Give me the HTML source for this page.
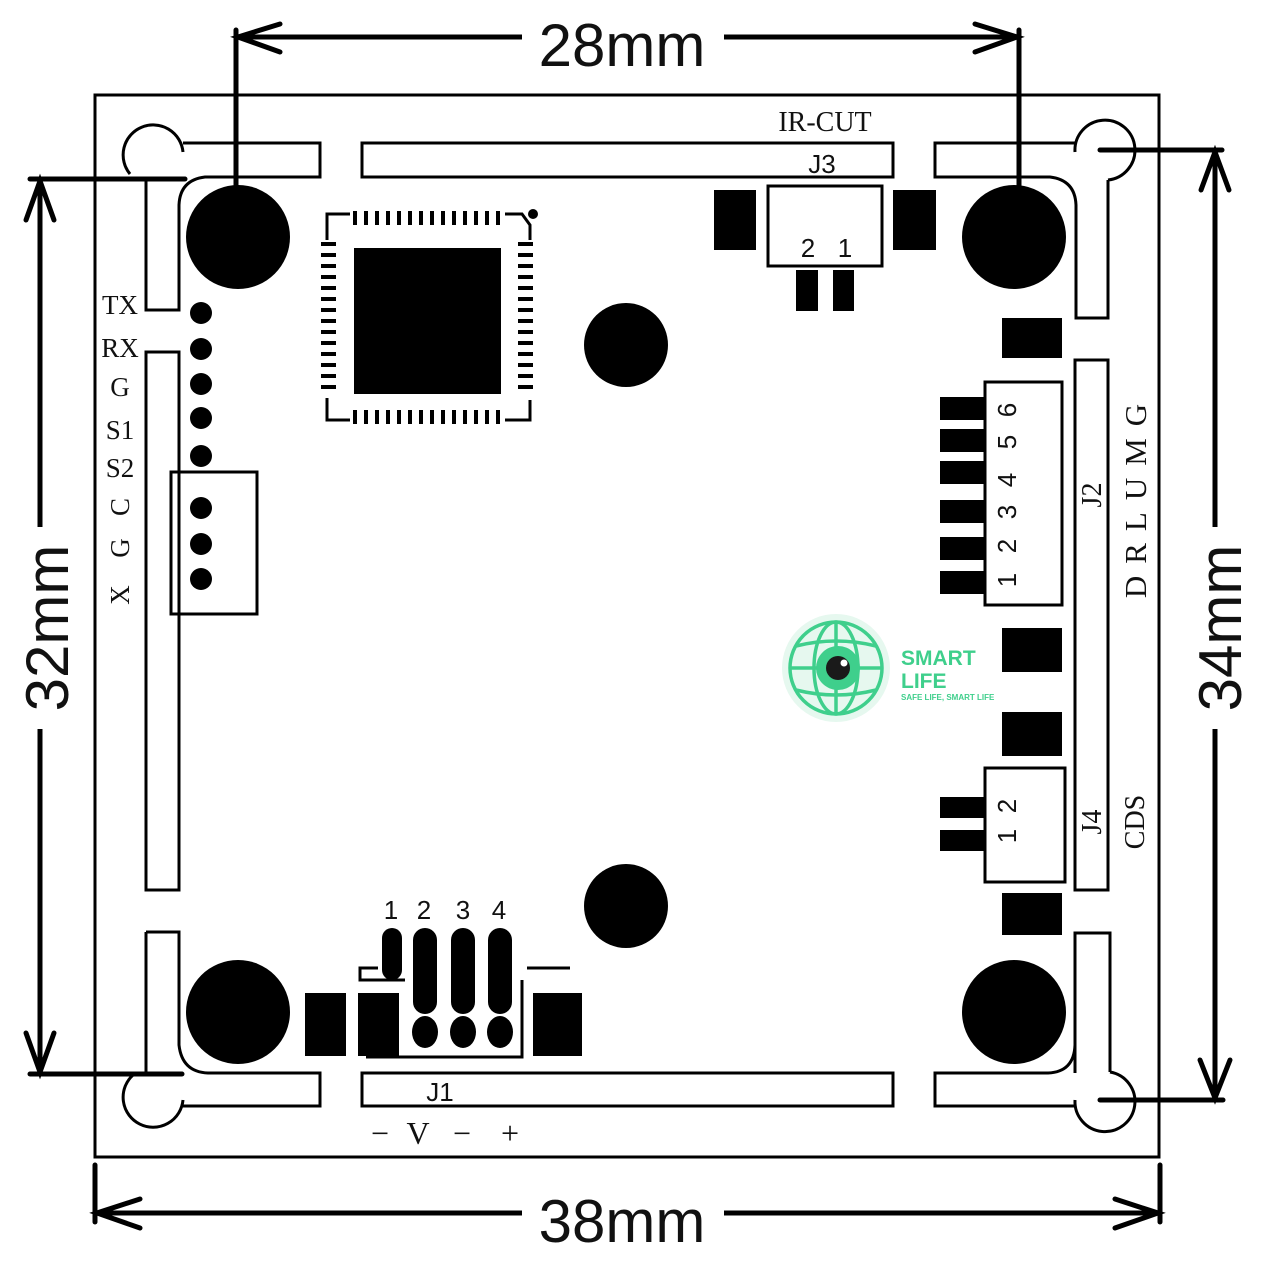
<!DOCTYPE html>
<html><head><meta charset="utf-8"><style>
html,body{margin:0;padding:0;background:#fff;}
svg{display:block;}
.s{font-family:"Liberation Serif",serif;fill:#111;}
.a{font-family:"Liberation Sans",sans-serif;fill:#111;}
</style></head><body>
<svg width="1280" height="1270" viewBox="0 0 1280 1270" xmlns="http://www.w3.org/2000/svg">
<rect width="1280" height="1270" fill="#fff"/>
<rect x="95" y="95" width="1064" height="1062" fill="none" stroke="#000" stroke-width="3"/>

<g fill="none" stroke="#000" stroke-width="3">
<path d="M183 152 A30 30 0 1 0 130 174"/>
<path d="M183 143 H320 V177 H205 Q180 180 179 205 V310 H146 V178"/>
<path d="M146 352 H179 V890 H146 Z"/>
<rect x="362" y="143" width="531" height="34"/>
<path d="M1075 152 A30 30 0 1 1 1108 180"/>
<path d="M1075 143 H935 V177 H1050 Q1075 180 1076 205 V318 H1108 V180"/>
<rect x="1075" y="360" width="33" height="530"/>
<path d="M146 932 H179 V1045 Q182 1072 208 1073 H320 V1106 H183"/>
<path d="M146 932 V1073"/>
<path d="M183 1100 A30 30 0 1 1 133 1075"/>
<rect x="362" y="1073" width="531" height="33"/>
<path d="M1075 1073 V1045 Q1074 1072 1048 1073 H935 V1106 H1075"/>
<path d="M1075 1073 V933 H1110 V1072"/>
<path d="M1075 1100 A30 30 0 1 0 1110 1072"/>
</g>

<g fill="#000">
<circle cx="238" cy="237" r="52"/>
<circle cx="1014" cy="237" r="52"/>
<circle cx="238" cy="1012" r="52"/>
<circle cx="1014" cy="1012" r="52"/>
<circle cx="626" cy="345" r="42"/>
<circle cx="626" cy="906" r="42"/>
</g>

<g stroke="#000" stroke-width="5" fill="none" stroke-linecap="round">
<line x1="236" y1="30" x2="236" y2="190"/>
<line x1="1019" y1="30" x2="1019" y2="190"/>
<line x1="236" y1="37" x2="1019" y2="37"/>
<path d="M280 24 L238 37 L280 52"/>
<path d="M975 24 L1017 37 L975 52"/>
<line x1="30" y1="179" x2="185" y2="179"/>
<line x1="30" y1="1074" x2="182" y2="1074"/>
<line x1="40" y1="179" x2="40" y2="1074"/>
<path d="M26 220 L40 181 L54 220"/>
<path d="M26 1033 L40 1072 L54 1033"/>
<line x1="1100" y1="150" x2="1222" y2="150"/>
<line x1="1100" y1="1100" x2="1223" y2="1100"/>
<line x1="1215" y1="150" x2="1215" y2="1100"/>
<path d="M1201 190 L1215 152 L1229 190"/>
<path d="M1200 1060 L1215 1098 L1230 1060"/>
<line x1="95" y1="1165" x2="95" y2="1222"/>
<line x1="1160" y1="1165" x2="1160" y2="1222"/>
<line x1="95" y1="1213" x2="1160" y2="1213"/>
<path d="M140 1199 L97 1213 L140 1228"/>
<path d="M1115 1199 L1158 1213 L1115 1228"/>
</g>
<g class="a" font-size="60">
<rect x="522" y="8" width="202" height="60" fill="#fff"/>
<text x="622" y="66" text-anchor="middle">28mm</text>
<rect x="522" y="1184" width="202" height="60" fill="#fff"/>
<text x="622" y="1242" text-anchor="middle">38mm</text>
<rect x="12" y="527" width="60" height="202" fill="#fff"/>
<text transform="translate(68,628) rotate(-90)" text-anchor="middle">32mm</text>
<rect x="1186" y="527" width="60" height="202" fill="#fff"/>
<text transform="translate(1241,628) rotate(-90)" text-anchor="middle">34mm</text>
</g>

<g fill="#000">
<rect x="354" y="248" width="147" height="146"/>
<circle cx="533" cy="214" r="5"/>
</g>
<g fill="none" stroke="#000" stroke-width="3">
<path d="M350 214 H327 V240"/>
<path d="M327 398 V420 H350"/>
<path d="M505 420 H530 V400"/>
<path d="M505 214 H522 L530 225 V240"/>
</g>
<g fill="#000">
<rect x="353" y="211" width="4" height="14"/><rect x="364" y="211" width="4" height="14"/><rect x="375" y="211" width="4" height="14"/><rect x="386" y="211" width="4" height="14"/><rect x="397" y="211" width="4" height="14"/><rect x="408" y="211" width="4" height="14"/><rect x="419" y="211" width="4" height="14"/><rect x="430" y="211" width="4" height="14"/><rect x="441" y="211" width="4" height="14"/><rect x="452" y="211" width="4" height="14"/><rect x="463" y="211" width="4" height="14"/><rect x="474" y="211" width="4" height="14"/><rect x="485" y="211" width="4" height="14"/><rect x="496" y="211" width="4" height="14"/>
<rect x="353" y="410" width="4" height="14"/><rect x="364" y="410" width="4" height="14"/><rect x="375" y="410" width="4" height="14"/><rect x="386" y="410" width="4" height="14"/><rect x="397" y="410" width="4" height="14"/><rect x="408" y="410" width="4" height="14"/><rect x="419" y="410" width="4" height="14"/><rect x="430" y="410" width="4" height="14"/><rect x="441" y="410" width="4" height="14"/><rect x="452" y="410" width="4" height="14"/><rect x="463" y="410" width="4" height="14"/><rect x="474" y="410" width="4" height="14"/><rect x="485" y="410" width="4" height="14"/><rect x="496" y="410" width="4" height="14"/>
<rect x="321" y="242" width="15" height="4"/><rect x="321" y="253" width="15" height="4"/><rect x="321" y="264" width="15" height="4"/><rect x="321" y="275" width="15" height="4"/><rect x="321" y="286" width="15" height="4"/><rect x="321" y="297" width="15" height="4"/><rect x="321" y="308" width="15" height="4"/><rect x="321" y="319" width="15" height="4"/><rect x="321" y="330" width="15" height="4"/><rect x="321" y="341" width="15" height="4"/><rect x="321" y="352" width="15" height="4"/><rect x="321" y="363" width="15" height="4"/><rect x="321" y="374" width="15" height="4"/><rect x="321" y="385" width="15" height="4"/>
<rect x="518" y="242" width="15" height="4"/><rect x="518" y="253" width="15" height="4"/><rect x="518" y="264" width="15" height="4"/><rect x="518" y="275" width="15" height="4"/><rect x="518" y="286" width="15" height="4"/><rect x="518" y="297" width="15" height="4"/><rect x="518" y="308" width="15" height="4"/><rect x="518" y="319" width="15" height="4"/><rect x="518" y="330" width="15" height="4"/><rect x="518" y="341" width="15" height="4"/><rect x="518" y="352" width="15" height="4"/><rect x="518" y="363" width="15" height="4"/><rect x="518" y="374" width="15" height="4"/><rect x="518" y="385" width="15" height="4"/>
</g>

<g fill="#000">
<circle cx="201" cy="313" r="11"/><circle cx="201" cy="349" r="11"/><circle cx="201" cy="384" r="11"/><circle cx="201" cy="418" r="11"/><circle cx="201" cy="456" r="11"/><circle cx="201" cy="508" r="11"/><circle cx="201" cy="544" r="11"/><circle cx="201" cy="579" r="11"/>
</g>
<rect x="171" y="472" width="86" height="142" fill="none" stroke="#000" stroke-width="3"/>
<g class="s" font-size="27" text-anchor="middle">
<text x="120" y="314">TX</text>
<text x="120" y="357">RX</text>
<text x="120" y="396">G</text>
<text x="120" y="439">S1</text>
<text x="120" y="477">S2</text>
<text transform="translate(129,507) rotate(-90)">C</text>
<text transform="translate(129,548) rotate(-90)">G</text>
<text transform="translate(129,595) rotate(-90)">X</text>
</g>

<text class="s" x="825" y="131" font-size="28" text-anchor="middle">IR-CUT</text>
<text class="a" x="822" y="173" font-size="26" text-anchor="middle">J3</text>
<rect x="768" y="186" width="114" height="80" fill="none" stroke="#000" stroke-width="3"/>
<g fill="#000">
<rect x="714" y="190" width="42" height="60"/>
<rect x="893" y="190" width="43" height="60"/>
<rect x="796" y="270" width="22" height="41"/>
<rect x="833" y="270" width="21" height="41"/>
</g>
<text class="a" x="808" y="257" font-size="26" text-anchor="middle">2</text>
<text class="a" x="845" y="257" font-size="26" text-anchor="middle">1</text>

<g fill="#000">
<rect x="1002" y="318" width="60" height="40"/>
<rect x="940" y="397" width="45" height="23"/>
<rect x="940" y="429" width="45" height="23"/>
<rect x="940" y="461" width="45" height="23"/>
<rect x="940" y="500" width="45" height="23"/>
<rect x="940" y="537" width="45" height="23"/>
<rect x="940" y="571" width="45" height="23"/>
<rect x="1002" y="628" width="60" height="44"/>
<rect x="1002" y="712" width="60" height="44"/>
<rect x="940" y="797" width="45" height="21"/>
<rect x="940" y="830" width="45" height="21"/>
<rect x="1002" y="893" width="60" height="42"/>
</g>
<rect x="985" y="382" width="77" height="223" fill="none" stroke="#000" stroke-width="3"/>
<rect x="985" y="768" width="80" height="114" fill="none" stroke="#000" stroke-width="3"/>
<g class="a" font-size="26" text-anchor="middle">
<text transform="translate(1016,580) rotate(-90)">1</text>
<text transform="translate(1016,546) rotate(-90)">2</text>
<text transform="translate(1016,512) rotate(-90)">3</text>
<text transform="translate(1016,480) rotate(-90)">4</text>
<text transform="translate(1016,442) rotate(-90)">5</text>
<text transform="translate(1016,410) rotate(-90)">6</text>
<text transform="translate(1016,836) rotate(-90)">1</text>
<text transform="translate(1016,806) rotate(-90)">2</text>
</g>
<g class="s" text-anchor="middle">
<text transform="translate(1101,495) rotate(-90)" font-size="28">J2</text>
<text transform="translate(1101,822) rotate(-90)" font-size="28">J4</text>
<text transform="translate(1146,495) rotate(-90)" font-size="31" letter-spacing="12">DRLUMG</text>
<text transform="translate(1144,822) rotate(-90)" font-size="28">CDS</text>
</g>

<circle cx="836" cy="668" r="54" fill="#e6f8ef"/>
<g fill="none" stroke="#3fcf8c" stroke-width="3.5">
<circle cx="836" cy="668" r="46"/>
<ellipse cx="836" cy="668" rx="22" ry="46"/>
<line x1="836" y1="622" x2="836" y2="714"/>
<line x1="790" y1="668" x2="882" y2="668"/>
<path d="M796 646 Q836 636 876 646"/><path d="M796 690 Q836 700 876 690"/>
</g>
<circle cx="838" cy="668" r="22" fill="#3fcf8c"/>
<circle cx="838" cy="668" r="12" fill="#1a1a1a"/>
<circle cx="844" cy="663" r="3.5" fill="#fff"/>
<g font-family="Liberation Sans Narrow, Liberation Sans, sans-serif" font-weight="bold" fill="#3fcf8c">
<text x="901" y="665" font-size="21">SMART</text>
<text x="901" y="688" font-size="21">LIFE</text>
<text x="901" y="700" font-size="8">SAFE LIFE, SMART LIFE</text>
</g>

<g class="a" font-size="26" text-anchor="middle">
<text x="391" y="919">1</text><text x="424" y="919">2</text><text x="463" y="919">3</text><text x="499" y="919">4</text>
<text x="440" y="1101">J1</text>
</g>
<g class="s" font-size="32" text-anchor="middle">
<text x="380" y="1144">−</text><text x="418" y="1144">V</text><text x="462" y="1144">−</text><text x="510" y="1144">+</text>
</g>
<g fill="#000">
<rect x="382" y="928" width="20" height="52" rx="10"/>
<rect x="413" y="928" width="24" height="86" rx="12"/>
<rect x="451" y="928" width="24" height="86" rx="12"/>
<rect x="488" y="928" width="24" height="86" rx="12"/>
<ellipse cx="425" cy="1032" rx="13" ry="16"/>
<ellipse cx="463" cy="1032" rx="13" ry="16"/>
<ellipse cx="500" cy="1032" rx="13" ry="16"/>
<rect x="305" y="993" width="41" height="63"/>
<rect x="358" y="993" width="41" height="63"/>
<rect x="533" y="993" width="49" height="63"/>
</g>
<g fill="none" stroke="#000" stroke-width="3">
<path d="M378 968 H360 V980 H405"/>
<path d="M527 968 H570"/>
<path d="M522 980 V1057 H366"/>
</g>
</svg>
</body></html>
